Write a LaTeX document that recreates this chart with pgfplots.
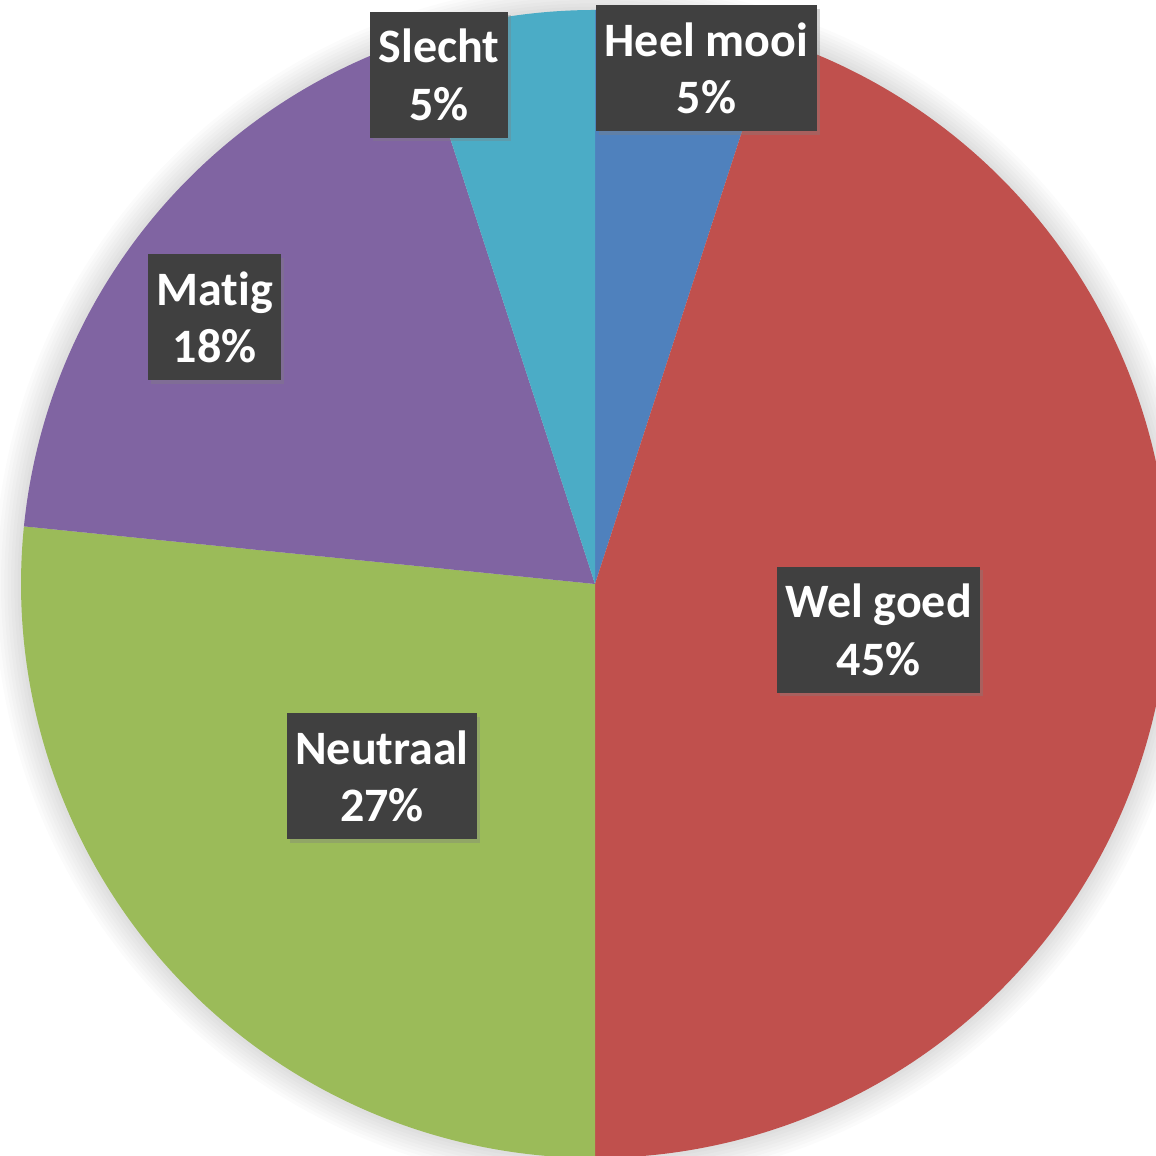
\documentclass[border=0pt]{standalone}
\usepackage{pgfplots}
\pgfplotsset{compat=1.18}
\usepackage{pgfplotstable}
\usepackage{fontspec}
\setmainfont{Carlito}[Ligatures=NoCommon]
\usetikzlibrary{shadows}

\definecolor{cHeel}{HTML}{4F81BD}
\definecolor{cWel}{HTML}{C0504D}
\definecolor{cNeu}{HTML}{9BBB59}
\definecolor{cMat}{HTML}{8064A2}
\definecolor{cSle}{HTML}{4BACC6}
\definecolor{boxc}{HTML}{404040}
\definecolor{bgg}{HTML}{F5F5F5}
\definecolor{bggc}{HTML}{EDEDED}

\pgfdeclareradialshading{bgshade}{\pgfpoint{0bp}{0bp}}{color(0bp)=(white); color(44bp)=(white); color(55bp)=(bgg); color(72bp)=(bggc)}

% shares of the five answers (per cent), clockwise from the top
\pgfplotstableread{
value
5
45
26.6
18.4
5
}\piedata

\pgfmathsetmacro\aZero{90}
\pgfplotstablegetelem{0}{value}\of\piedata
\pgfmathsetmacro\aOne{\aZero-3.6*\pgfplotsretval}
\pgfplotstablegetelem{1}{value}\of\piedata
\pgfmathsetmacro\aTwo{\aOne-3.6*\pgfplotsretval}
\pgfplotstablegetelem{2}{value}\of\piedata
\pgfmathsetmacro\aThree{\aTwo-3.6*\pgfplotsretval}
\pgfplotstablegetelem{3}{value}\of\piedata
\pgfmathsetmacro\aFour{\aThree-3.6*\pgfplotsretval}
\pgfplotstablegetelem{4}{value}\of\piedata
\pgfmathsetmacro\aFive{\aFour-3.6*\pgfplotsretval}

\def\R{172.2pt}

\begin{document}
\begin{tikzpicture}[
  lbl/.style={fill=boxc, text=white, font=\fontsize{14.4}{17.2}\selectfont\bfseries,
    align=center, inner sep=0pt, minimum height=37.8pt,
    drop shadow={shadow xshift=1pt, shadow yshift=-1pt, opacity=0.35}}]
\useasboundingbox (0,0) rectangle (346.8pt,346.8pt);
\clip (0,0) rectangle (346.8pt,346.8pt);
\shade[shading=bgshade] (0,0) rectangle (346.8pt,346.8pt);
\begin{axis}[
  anchor=south west, at={(0,0)},
  scale only axis, width=346.8pt, height=346.8pt,
  xmin=0, xmax=1156, ymin=0, ymax=1156,
  hide axis, clip=false]
  % soft halo
  \fill[black,opacity=0.014] (axis cs:595,572) circle[radius=180.2pt];
  \fill[black,opacity=0.014] (axis cs:595,572) circle[radius=179.2pt];
  \fill[black,opacity=0.014] (axis cs:595,572) circle[radius=178.2pt];
  \fill[black,opacity=0.014] (axis cs:595,572) circle[radius=177.2pt];
  \fill[black,opacity=0.014] (axis cs:595,572) circle[radius=176.2pt];
  \fill[black,opacity=0.014] (axis cs:595,572) circle[radius=175.2pt];
  \fill[black,opacity=0.014] (axis cs:595,572) circle[radius=174.2pt];
  \fill[black,opacity=0.014] (axis cs:595,572) circle[radius=173.2pt];
  % slices
  \fill[cHeel] (axis cs:595,572) -- ++(\aZero:\R) arc[start angle=\aZero, end angle=\aOne, radius=\R] -- cycle;
  \fill[cWel] (axis cs:595,572) -- ++(\aOne:\R) arc[start angle=\aOne, end angle=\aTwo, radius=\R] -- cycle;
  \fill[cNeu] (axis cs:595,572) -- ++(\aTwo:\R) arc[start angle=\aTwo, end angle=\aThree, radius=\R] -- cycle;
  \fill[cMat] (axis cs:595,572) -- ++(\aThree:\R) arc[start angle=\aThree, end angle=\aFour, radius=\R] -- cycle;
  \fill[cSle] (axis cs:595,572) -- ++(\aFour:\R) arc[start angle=\aFour, end angle=\aFive, radius=\R] -- cycle;
  % labels
  \node[lbl, minimum width=66.3pt] at (axis cs:706.5,1087.5) {Heel mooi\\5\%};
  \node[lbl, minimum width=60.9pt] at (axis cs:878.5,526) {Wel goed\\45\%};
  \node[lbl, minimum width=57pt] at (axis cs:382,379.5) {Neutraal\\27\%};
  \node[lbl, minimum width=39.9pt] at (axis cs:214.5,838.5) {Matig\\18\%};
  \node[lbl, minimum width=41.4pt] at (axis cs:439,1081) {Slecht\\5\%};
\end{axis}
\end{tikzpicture}
\end{document}
